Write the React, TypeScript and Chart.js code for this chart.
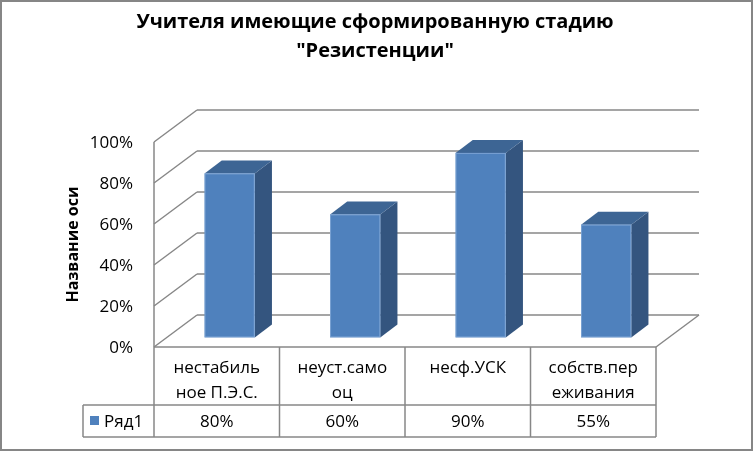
import React, { useEffect, useRef } from "react";
import { Chart, registerables } from "chart.js";

Chart.register(...registerables);

// ---- data ----
const categories: string[][] = [
  ["нестабиль", "ное П.Э.С."],
  ["неуст.само", "оц"],
  ["несф.УСК"],
  ["собств.пер", "еживания"],
];
const seriesName = "Ряд1";
const values = [0.8, 0.6, 0.9, 0.55];
const valueLabels = ["80%", "60%", "90%", "55%"];
const yTicks = [0, 0.2, 0.4, 0.6, 0.8, 1];
const titleLines = ["Учителя имеющие сформированную стадию", "\"Резистенции\""];
const axisTitle = "Название оси";

// ---- style ----
const FONT = "'Open Sans', 'Noto Sans', sans-serif";
const GRID = "#878787";
const FRONT = "#4F81BD";
const SIDE = "#34557F";
const TOP = "#3D6594";
const DEPTH = { x: 43, y: -32 }; // oblique depth of the plot box
const BAR_FRONT = 0.3; // bar front face position within depth
const BAR_DEPTH = 0.4; // bar depth fraction

const excel3d = {
  id: "excel3d",
  beforeDraw(chart: any) {
    const ctx = chart.ctx as CanvasRenderingContext2D;
    const { width, height } = chart;
    ctx.save();
    ctx.fillStyle = "#fff";
    ctx.fillRect(0, 0, width, height);
    ctx.strokeStyle = "#868686";
    ctx.lineWidth = 2;
    ctx.strokeRect(1, 1, width - 2, height - 2);
    // title
    ctx.fillStyle = "#000";
    ctx.font = `bold 20px ${FONT}`;
    ctx.textAlign = "center";
    ctx.textBaseline = "middle";
    ctx.fillText(titleLines[0], 375, 22);
    ctx.fillText(titleLines[1], 375, 51);
    ctx.restore();
  },
  beforeDatasetsDraw(chart: any) {
    const ctx = chart.ctx as CanvasRenderingContext2D;
    const xs = chart.scales.x;
    const ys = chart.scales.y;
    const L = chart.chartArea.left;
    const R = chart.chartArea.right;
    const B = ys.getPixelForValue(0);
    const T = ys.getPixelForValue(1);
    ctx.save();
    ctx.strokeStyle = GRID;
    ctx.lineWidth = 1.5;
    ctx.lineCap = "butt";
    const line = (x1: number, y1: number, x2: number, y2: number) => {
      ctx.beginPath();
      ctx.moveTo(x1, y1);
      ctx.lineTo(x2, y2);
      ctx.stroke();
    };
    // gridlines on side wall and back wall
    yTicks.forEach((t) => {
      const y = ys.getPixelForValue(t);
      line(L, y, L + DEPTH.x, y + DEPTH.y);
      line(L + DEPTH.x, y + DEPTH.y, R + DEPTH.x, y + DEPTH.y);
    });
    // front value axis
    line(L, T, L, B);
    // floor edges
    line(L, B, R, B);
    line(R, B, R + DEPTH.x, B + DEPTH.y);

    // tick labels
    ctx.fillStyle = "#000";
    ctx.font = `17px ${FONT}`;
    ctx.textAlign = "right";
    ctx.textBaseline = "middle";
    yTicks.forEach((t) => {
      ctx.fillText(Math.round(t * 100) + "%", L - 21, ys.getPixelForValue(t) + 1);
    });

    // axis title
    ctx.save();
    ctx.translate(73, (T + B) / 2);
    ctx.rotate(-Math.PI / 2);
    ctx.font = `bold 16px ${FONT}`;
    ctx.textAlign = "center";
    ctx.textBaseline = "middle";
    ctx.fillText(axisTitle, 0, 0);
    ctx.restore();

    // data table
    const n = categories.length;
    const colW = (R - L) / n;
    const rowTop = B;
    const rowMid = B + 58;
    const rowBot = B + 90;
    const legendLeft = 83;
    ctx.lineWidth = 1.5;
    for (let i = 0; i <= n; i++) line(L + i * colW, rowTop, L + i * colW, rowBot);
    line(legendLeft, rowMid, R, rowMid);
    line(legendLeft, rowBot, R, rowBot);
    line(legendLeft, rowMid, legendLeft, rowBot);

    ctx.font = `17px ${FONT}`;
    ctx.textAlign = "center";
    ctx.textBaseline = "middle";
    categories.forEach((lines, i) => {
      const cx = xs.getPixelForValue(i);
      lines.forEach((s, k) => ctx.fillText(s, cx, rowTop + 21 + k * 25));
      ctx.fillText(valueLabels[i], cx, (rowMid + rowBot) / 2 + 1);
    });
    // legend key
    const ly = (rowMid + rowBot) / 2;
    ctx.fillStyle = FRONT;
    ctx.fillRect(90, ly - 5, 9, 9);
    ctx.fillStyle = "#000";
    ctx.textAlign = "left";
    ctx.fillText(seriesName, 104, ly + 1);
    ctx.restore();
  },
  afterDatasetsDraw(chart: any) {
    const ctx = chart.ctx as CanvasRenderingContext2D;
    const meta = chart.getDatasetMeta(0);
    const fx = DEPTH.x * BAR_FRONT;
    const fy = DEPTH.y * BAR_FRONT;
    const dx = DEPTH.x * BAR_DEPTH;
    const dy = DEPTH.y * BAR_DEPTH;
    ctx.save();
    meta.data.forEach((el: any) => {
      const p = el.getProps(["x", "y", "base", "width"], true);
      const x0 = p.x - p.width / 2 + fx;
      const x1 = p.x + p.width / 2 + fx;
      const yT = p.y + fy;
      const yB = p.base + fy;
      // side
      ctx.fillStyle = SIDE;
      ctx.beginPath();
      ctx.moveTo(x1, yB);
      ctx.lineTo(x1 + dx, yB + dy);
      ctx.lineTo(x1 + dx, yT + dy);
      ctx.lineTo(x1, yT);
      ctx.closePath();
      ctx.fill();
      // top
      ctx.fillStyle = TOP;
      ctx.beginPath();
      ctx.moveTo(x0, yT);
      ctx.lineTo(x0 + dx, yT + dy);
      ctx.lineTo(x1 + dx, yT + dy);
      ctx.lineTo(x1, yT);
      ctx.closePath();
      ctx.fill();
      // front
      ctx.fillStyle = FRONT;
      ctx.fillRect(x0, yT, x1 - x0, yB - yT);
      ctx.strokeStyle = "rgba(140,175,220,0.7)";
      ctx.lineWidth = 1;
      ctx.strokeRect(x0 + 0.5, yT + 0.5, x1 - x0 - 1, yB - yT - 1);
    });
    ctx.restore();
  },
};

export default function App() {
  const ref = useRef<HTMLCanvasElement>(null);
  useEffect(() => {
    document.body.style.margin = "0";
    const chart = new Chart(ref.current as HTMLCanvasElement, {
      type: "bar",
      data: {
        labels: categories,
        datasets: [
          {
            label: seriesName,
            data: values,
            backgroundColor: "rgba(0,0,0,0)",
            borderWidth: 0,
            barPercentage: 0.4,
            categoryPercentage: 1,
          },
        ],
      },
      options: {
        responsive: false,
        animation: false,
        devicePixelRatio: 1,
        layout: { padding: { left: 154, right: 97, top: 142, bottom: 104 } },
        scales: {
          x: { type: "category", display: false, offset: true, grid: { offset: true } },
          y: { type: "linear", display: false, min: 0, max: 1, ticks: { stepSize: 0.2 } },
        },
        plugins: {
          legend: { display: false },
          tooltip: { enabled: false },
          title: { display: false },
        },
      },
      plugins: [excel3d],
    });
    return () => chart.destroy();
  }, []);
  return (
    <div style={{ width: 753, height: 451, position: "relative", background: "#fff" }}>
      <canvas ref={ref} width={753} height={451} style={{ display: "block", width: 753, height: 451 }} />
    </div>
  );
}
